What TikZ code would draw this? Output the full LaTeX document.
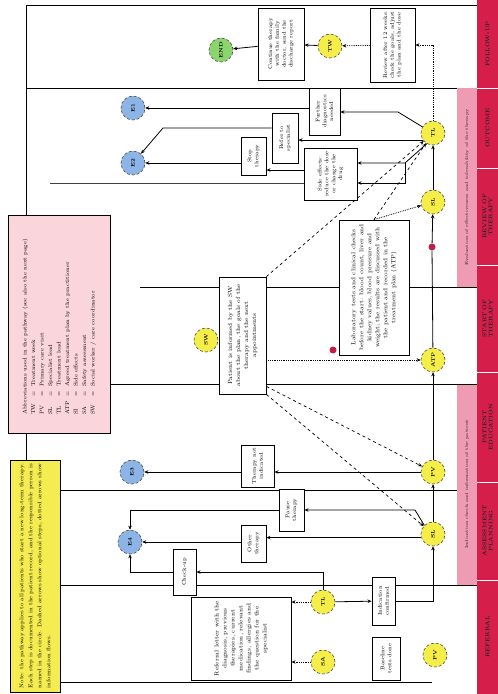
\documentclass[tikz,border=0pt]{standalone}
\usetikzlibrary{arrows.meta}
\definecolor{bandc}{RGB}{214,30,74}
\definecolor{lbandc}{RGB}{240,155,180}
\definecolor{legpink}{RGB}{250,214,220}
\definecolor{legyel}{RGB}{244,236,80}
\definecolor{ycol}{RGB}{246,238,72}
\definecolor{bcol}{RGB}{140,180,230}
\definecolor{gcol}{RGB}{140,212,110}
\definecolor{rdotc}{RGB}{196,28,72}
\newcommand\rtext[2]{\rotatebox{90}{\parbox{#1}{#2}}}
\begin{document}
\begin{tikzpicture}[x=1pt,y=-1pt,
  lane/.style={line width=0.8pt},
  bx/.style={draw, line width=0.9pt, fill=white, inner sep=1pt, font=\fontsize{5.5}{6.8}\selectfont},
  bigtxt/.style={font=\fontsize{6}{8}\selectfont},
  circ/.style={circle, draw=black!70, densely dashed, line width=0.6pt, minimum size=24pt, inner sep=0pt, font=\fontsize{5}{5}\selectfont\bfseries},
  yc/.style={circ, fill=ycol}, bc/.style={circ, fill=bcol}, gc/.style={circ, fill=gcol},
  arr/.style={line width=0.8pt, -{Stealth[length=4pt,width=3.5pt]}},
  dotarr/.style={line width=0.8pt, densely dotted, -{Stealth[length=4pt,width=3.5pt]}},
  dasharr/.style={line width=0.7pt, dashed, -{Stealth[length=4pt,width=3.5pt]}},
  rdot/.style={circle, fill=rdotc, minimum size=7pt, inner sep=0pt},
  bandlbl/.style={rotate=90, font=\fontsize{5.5}{6.2}\selectfont\bfseries, text=black!85, align=center},
  lbandlbl/.style={rotate=90, font=\fontsize{4.5}{5}\selectfont, text=black!85}]
\path[use as bounding box] (0,0) rectangle (498,694);
% side bands
\fill[bandc] (477,0) rectangle (498,694);
\fill[lbandc] (457,88) rectangle (477,287);
\fill[lbandc] (457,384) rectangle (477,585);
\foreach \yy in {88,168,265,372,482,580} \draw[white, line width=1pt] (477,\yy) -- (498,\yy);
\node[bandlbl] (h1) at (487.5,44) {FOLLOW-UP};
\node[bandlbl] (h2) at (487.5,128) {OUTCOME};
\node[bandlbl] (h3) at (487.5,216.5) {REVIEW OF\\THERAPY};
\node[bandlbl] (h4) at (487.5,318.5) {START OF\\THERAPY};
\node[bandlbl] (h5) at (487.5,427) {PATIENT\\EDUCATION};
\node[bandlbl] (h6) at (487.5,531) {ASSESSMENT\\PLANNING};
\node[bandlbl] (h7) at (487.5,637) {REFERRAL};
\node[lbandlbl] (l1) at (467,187.5) {Evaluation of effectiveness and tolerability of the therapy};
\node[lbandlbl] (l2) at (467,484.5) {Indication check and information of the patient};
% lane lines
\draw[lane] (26,5) -- (477,5);
\draw[lane] (26,88) -- (457,88);
\draw[lane, black!75] (50,183) -- (304,183);
\draw[lane] (140,287) -- (477,287);
\draw[lane] (110,384) -- (477,384);
\draw[lane] (60,490) -- (457,490);
\draw[lane] (60,585) -- (477,585);
\draw[lane] (60,682) -- (432,682);
% legend and note
\node[draw, line width=0.9pt, fill=legpink, minimum width=102pt, minimum height=218pt, inner sep=2pt, font=\fontsize{5.5}{8.5}\selectfont] (legend) at (59,324)
 {\rotatebox{90}{\begin{tabular}{@{}l@{\ \ =\ \ }l@{}}
 \multicolumn{2}{@{}l}{Abbreviations used in the pathway (see also the next page)}\\
 TW & Treatment week\\
 PV & Primary care visit\\
 SL & Specialist lead\\
 TL & Treatment lead\\
 ATP & Agreed treatment plan by the practitioner\\
 SI & Side effects\\
 SA & Safety assessment\\
 SW & Social worker / care coordinator
 \end{tabular}}};
\node[draw, line width=0.9pt, fill=legyel, minimum width=50pt, minimum height=232pt, inner sep=2pt, font=\fontsize{5.5}{9}\selectfont] (note) at (35,576)
 {\rtext{224pt}{Note: the pathway applies to all patients who start a new long-term therapy. Each step is documented in the patient record, and the responsible person is named in the circle. Dashed arrows show optional steps, dotted arrows show information flows.}};
\draw[lane] (26,5) -- (legend.north -| 26,0);
\draw[lane] (legend.south -| 26,0) -- (note.north -| 26,0);
% top lane
\node[gc] (G) at (221,50) {\rotatebox{90}{END}};
\node[bx, minimum width=46pt, minimum height=72pt] (T1) at (281,44) {\rtext{66pt}{\centering Continue therapy with the family doctor, send the discharge report}};
\node[yc] (YT) at (330,46) {\rotatebox{90}{TW}};
\node[bx, minimum width=45pt, minimum height=74pt] (T2) at (392.5,45) {\rtext{68pt}{\centering Review after 12 weeks: check the goals, adjust the plan and the dose}};
% main column
\node[yc] (Y1) at (433,133) {\rotatebox{90}{TL}};
\node[yc] (Y2) at (433,202) {\rotatebox{90}{SL}};
\node[yc] (Y3) at (433,360) {\rotatebox{90}{ATP}};
\node[yc] (Y4) at (433,472) {\rotatebox{90}{PV}};
\node[yc] (Y5) at (433,534) {\rotatebox{90}{SL}};
\node[yc] (Y6) at (435,655) {\rotatebox{90}{PV}};
\node[yc] (Y7) at (323,602) {\rotatebox{90}{TL}};
\node[yc] (Y8) at (323,662) {\rotatebox{90}{SA}};
\node[yc] (S) at (206,340) {\rotatebox{90}{SW}};
% outcome circles
\node[bc] (B1) at (133,108) {\rotatebox{90}{E1}};
\node[bc] (B2) at (133,163) {\rotatebox{90}{E2}};
\node[bc] (B4) at (132,472) {\rotatebox{90}{E3}};
\node[bc] (B3) at (130,542) {\rotatebox{90}{E4}};
% boxes upper part
\node[bx, minimum width=31pt, minimum height=47pt] (W1) at (324.5,111.5) {\rtext{43pt}{\centering Further diagnostics needed}};
\node[bx, minimum width=26pt, minimum height=50pt] (A) at (285,138) {\rtext{46pt}{\centering Refer to specialist}};
\node[bx, minimum width=25pt, minimum height=38pt] (B) at (253.5,156) {\rtext{34pt}{\centering Stop therapy}};
\node[bx, minimum width=53pt, minimum height=52pt] (C) at (330.5,174) {\rtext{48pt}{\centering Side effects: reduce the dose or change the drug}};
\node[bx, bigtxt, minimum width=47pt, minimum height=117pt] (SWbox) at (242.5,335.5) {\rtext{111pt}{\centering Patient is informed by the SW about the plan, the goals of the therapy and the next appointments}};
\node[bx, bigtxt, minimum width=70pt, minimum height=135pt] (Lab) at (374,287.5) {\rtext{129pt}{\centering Laboratory tests and clinical checks before the start: blood count, liver and kidney values, blood pressure and weight; the results are discussed with the patient and recorded in the treatment plan (ATP)}};
% boxes lower part
\node[bx, minimum width=33pt, minimum height=42pt] (D) at (257.5,466) {\rtext{38pt}{\centering Therapy not indicated}};
\node[bx, minimum width=25pt, minimum height=42pt] (E) at (291.5,510) {\rtext{38pt}{\centering Pause therapy}};
\node[bx, minimum width=25pt, minimum height=37pt] (F) at (253.5,543.5) {\rtext{33pt}{\centering Other therapy}};
\node[bx, minimum width=23pt, minimum height=46pt] (K) at (184.5,572) {\rtext{42pt}{\centering Check-up}};
\node[bx, minimum width=23pt, minimum height=48pt] (G2) at (383.5,601) {\rtext{44pt}{\centering Indication confirmed}};
\node[bx, bigtxt, minimum width=100pt, minimum height=83pt] (H) at (241,638.5) {\rtext{77pt}{\centering Referral letter with the diagnosis, previous therapies, current medication, relevant findings, allergies and the question for the specialist}};
\node[bx, minimum width=28pt, minimum height=43pt] (I) at (386,658.5) {\rtext{39pt}{\centering Baseline tests done}};
% red markers
\node[rdot] (R1) at (333,350) {};
\node[rdot] (R2) at (432,247) {};
% connectors top lane
\draw[arr] (YT) -- (T1);
\draw[arr] (T1) -- (G);
\draw[dotarr] (T2) -- (YT);
\draw[dotarr] (Y1) -- (Y1 |- T2) -- (T2);
% main flow
\draw[arr] (Y2) -- (Y1);
\draw[arr] (Y3) -- (R2) -- (Y2);
\draw[arr] (Y4) -- (Y3);
\draw[arr] (Y5) -- (Y4);
% outcome lane
\draw[arr] (Y1.150) -- (398,112) -- (W1.east |- 0,112);
\draw[arr] (W1.west |- B1) -- (B1);
\draw[arr] (Y1.215) -- (A.east |- Y1.215);
\draw[arr] ([yshift=10pt]A.west) -- (163,128) -- (B2);
\draw[arr] (Y1.240) -- (405,163) -- (C.east |- 0,163);
\draw[arr] (405,163) -- (405,183) -- (C.east |- 0,183);
\draw[arr] (C.west |- 0,170) -- (B.east |- 0,170);
\draw[arr] (B.west |- B2) -- (B2);
% SW box fan
\draw[dasharr] (SWbox.north east) -- (Y1);
\draw[dasharr] (Lab.north) -- (Y1);
\draw[dotarr] (Lab.north) -- (Y2);
\draw[dotarr] (SWbox.east |- Y3) -- (Y3);
\draw[dasharr] ([yshift=8pt]SWbox.south east) -- (Y4);
\draw[dasharr] (SWbox.south east) -- (Y5);
% lower lanes
\draw[arr] (Y4) -- (D.east |- Y4);
\draw[arr] (D.west |- B4) -- (B4);
\draw[arr] (Y5.135) -- (415,510) -- (E.east |- 0,510);
\draw[arr] (Y5.197) -- (F.east |- Y5.197);
\draw[arr] (F.west |- B3) -- (B3);
\draw[arr] (E.west) -- (B3 |- E.west) -- (B3.north);
\draw[arr] (K.west) -- (B3 |- K.west) -- (B3.south);
\draw[arr] (Y7.north) -- (Y7 |- K.east) -- (K.east);
\draw[arr] (Y7) -- (G2);
\draw[arr] (G2.east) -- (Y5 |- G2.east) -- (Y5.south);
\draw[dotarr] (Y7) -- (H.east |- Y7);
\draw[dotarr] (Y8) -- (H.east |- Y8);
\end{tikzpicture}
\end{document}
